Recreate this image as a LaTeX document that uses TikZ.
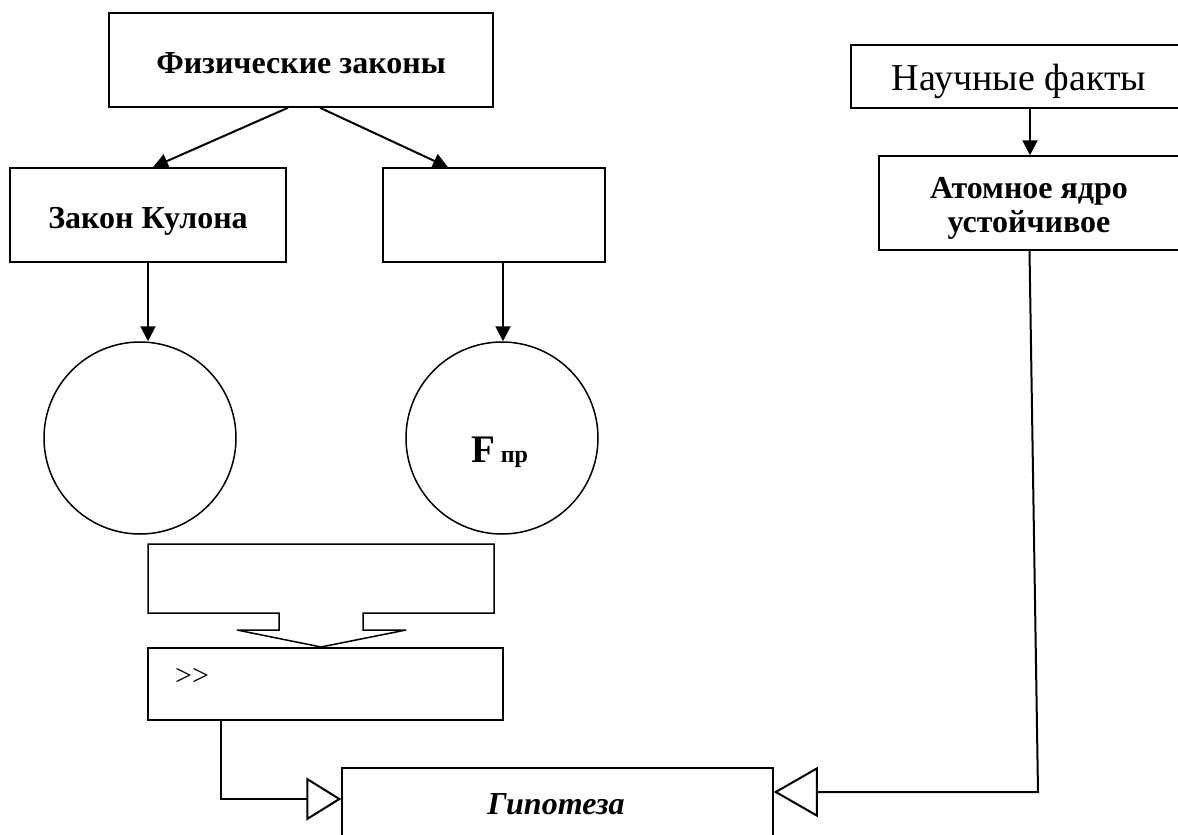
\documentclass[tikz,border=0pt]{standalone}
\usepackage{fontspec}
\setmainfont{Liberation Serif}
\usetikzlibrary{arrows.meta,calc}
\begin{document}
\begin{tikzpicture}[x=1pt,y=-1pt,
  box/.style={draw, line width=1.5pt, rectangle, inner sep=0pt},
  circ/.style={draw, line width=1.5pt, circle, inner sep=0pt, minimum size=192pt},
  conn/.style={line width=2pt, -{Triangle[length=15pt,width=15pt]}},
  hollowL/.style={line width=2pt, -{Triangle[open,length=35pt,width=43pt]}},
  hollowR/.style={line width=2pt, -{Triangle[open,length=44pt,width=50pt]}},
  bf/.style={anchor=base, inner sep=0pt, font=\fontsize{32}{34}\selectfont\bfseries}]
\useasboundingbox (0,0) rectangle (1178,835);
\clip (0,0) rectangle (1178,835);

% boxes
\node[box, minimum width=384pt, minimum height=94pt] (phys) at (301,60) {};
\node[bf] (physlabel) at (301,73) {Физические законы};
\node[box, minimum width=276pt, minimum height=94pt] (coul) at (148,215) {};
\node[bf] (coullabel) at (148,228) {Закон Кулона};
\node[box, minimum width=222pt, minimum height=94pt] (e2) at (494,215) {};
\node[box, minimum width=339pt, minimum height=63pt] (facts) at (1020.5,76.5) {};
\node[anchor=base, inner sep=0pt, font=\fontsize{38}{40}\selectfont] (factslabel) at (1019,90) {Научные факты};
\node[box, minimum width=301pt, minimum height=94pt] (atom) at (1029.5,203) {};
\node[bf] (atomlabel1) at (1029,198) {Атомное ядро};
\node[bf] (atomlabel2) at (1029,232) {устойчивое};

% circles
\node[circ] (c1) at (140,438) {};
\node[circ] (c2) at (502,438) {};
\node[anchor=base, inner sep=0pt, font=\fontsize{39}{39}\selectfont\bfseries] (fpr) at (499.5,462) {F\hspace{6pt}{\fontsize{24}{24}\selectfont пр}};

% block-arrow box
\draw[line width=1.5pt] (148,544) -- (494,544) -- (494,613) -- (363,613) -- (363,630) -- (406,630)
  -- (321,647) -- (237,630) -- (279,630) -- (279,613) -- (148,613) -- cycle;

% comparison box
\node[box, minimum width=355pt, minimum height=72pt] (gt) at (325.5,684) {};
\node[anchor=base west, inner sep=0pt, font=\fontsize{30}{30}\selectfont] (gtlabel) at (175,685) {>{}>};

% hypothesis box
\node[box, minimum width=431pt, minimum height=82pt] (hyp) at (557.5,809) {};
\node[anchor=base, inner sep=0pt, font=\fontsize{32}{32}\selectfont\bfseries\itshape] (hyplabel) at (556,814) {Гипотеза};

% connectors
\draw[conn] ([xshift=-13pt]phys.south) -- ([xshift=5pt]coul.north);
\draw[conn] ([xshift=19pt]phys.south) -- ([xshift=-46pt]e2.north);
\draw[conn] (coul.south) -- (coul.south |- c1.north);
\coordinate (e2s) at ([xshift=9pt]e2.south);
\draw[conn] (e2s) -- (e2s |- c2.north);
\coordinate (fs) at ([xshift=9.5pt]facts.south);
\draw[conn] (fs) -- (fs |- atom.north);

\coordinate (rc) at (1038,792);
\draw[hollowR] (atom.south) -- (rc) -- (rc -| hyp.east);
\coordinate (gs) at ([xshift=-104.5pt]gt.south);
\coordinate (lc) at (gs |- 0,799);
\draw[hollowL] (gs) -- (lc) -- (lc -| hyp.west);
\end{tikzpicture}
\end{document}
